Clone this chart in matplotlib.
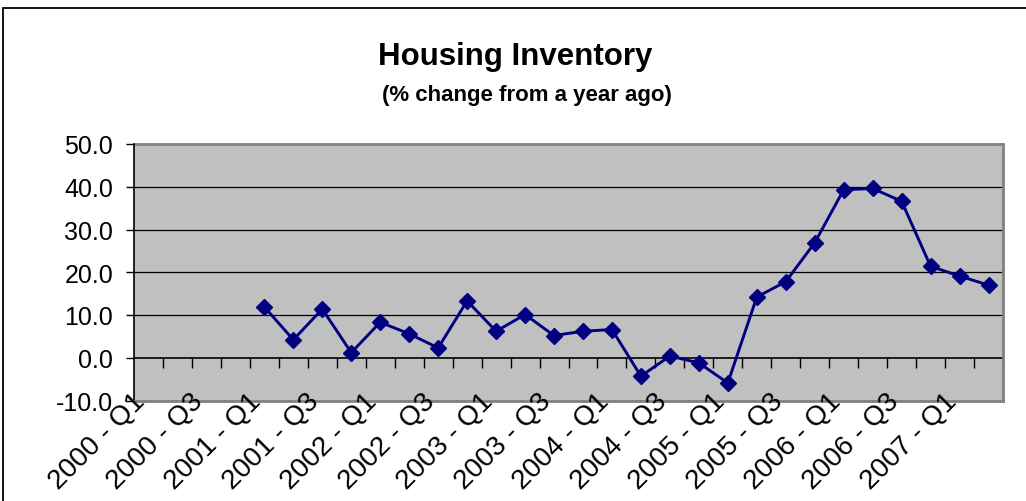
"""
Housing inventory, % change from a year ago, quarterly line chart.
"""

import matplotlib
matplotlib.use("Agg")
import matplotlib.pyplot as plt
from matplotlib.patches import Rectangle
from matplotlib.ticker import FixedLocator, FormatStrFormatter
from matplotlib.transforms import ScaledTranslation

plt.rcParams["font.family"] = ["Liberation Sans", "DejaVu Sans"]

# ---------------------------------------------------------------------------
# Data
# ---------------------------------------------------------------------------
YEARS = list(range(2000, 2008))
QUARTERS = [f"{y} - Q{q}" for y in YEARS for q in range(1, 5)][:30]  # 2000-Q1 .. 2007-Q2

# Series starts at 2001 - Q1
FIRST_QUARTER = "2001 - Q1"
INVENTORY_CHG = [
    11.9, 4.2, 11.4, 1.2, 8.3, 5.6, 2.3, 13.3, 6.2, 10.1,
    5.2, 6.2, 6.6, -4.3, 0.4, -1.2, -5.9, 14.2, 17.8, 26.9,
    39.3, 39.6, 36.6, 21.4, 19.1, 17.0,
]

TITLE = "Housing Inventory"
SUBTITLE = "(% change from a year ago)"

NAVY = "#000080"
PLOT_BG = "#C0C0C0"
BORDER_GRAY = "#808080"

# ---------------------------------------------------------------------------
# Figure
# ---------------------------------------------------------------------------
fig = plt.figure(figsize=(10.26, 5.02), dpi=100)
W, H = 1026, 502

left, right, top, bottom = 134, 1003, 145, 401.5
ax = fig.add_axes([left / W, 1 - bottom / H, (right - left) / W, (bottom - top) / H])
ax.set_facecolor(PLOT_BG)

start = QUARTERS.index(FIRST_QUARTER)
xs = list(range(start, start + len(INVENTORY_CHG)))
ax.plot(xs, INVENTORY_CHG, color=NAVY, linewidth=2.1, marker="D",
        markersize=8.5, markerfacecolor=NAVY, markeredgecolor=NAVY, zorder=5)

ax.set_xlim(-0.5, len(QUARTERS) - 0.5)
ax.set_ylim(-10, 50)

# y axis
ax.set_yticks(range(-10, 51, 10))
ax.yaxis.set_major_formatter(FormatStrFormatter("%.1f"))
ax.tick_params(axis="y", direction="out", length=6, width=1, pad=9,
               labelsize=18, colors="black")
for yv in range(10, 50, 10):
    ax.axhline(yv, color="black", linewidth=0.9, zorder=1)

# category axis line at zero with tick marks between categories
sec = ax.secondary_xaxis(10 / 60)
sec.spines["bottom"].set_visible(False)
sec.xaxis.set_major_locator(FixedLocator([i + 0.5 for i in range(len(QUARTERS))]))
sec.tick_params(axis="x", direction="out", length=7, width=1, labelbottom=False,
                colors="black")
ax.axhline(0, color="black", linewidth=1.2, zorder=2)

# category labels every other quarter, hung from the bottom edge
ax.set_xticks([])
label_shift = ScaledTranslation(-0.07, 0.03, fig.dpi_scale_trans)
for i in range(0, len(QUARTERS), 2):
    ax.text(i, 0, QUARTERS[i], transform=ax.get_xaxis_transform() + label_shift,
            rotation=45, rotation_mode="anchor", ha="right", va="center",
            fontsize=20, clip_on=False, zorder=6)

ax.spines["top"].set_visible(False)
ax.spines["left"].set_color("black")
ax.spines["left"].set_linewidth(1.2)
for side in ("bottom", "right"):
    ax.spines[side].set_color(BORDER_GRAY)
    ax.spines[side].set_linewidth(2)
ax.add_patch(Rectangle((0, 1), 1, 0, transform=ax.transAxes, fill=False,
                       edgecolor=BORDER_GRAY, linewidth=2, clip_on=False))

# titles
fig.text(515 / W, 1 - 57 / H, TITLE, ha="center", va="center",
         fontsize=22.5, fontweight="bold")
fig.text(527 / W, 1 - 95 / H, SUBTITLE, ha="center", va="center",
         fontsize=16, fontweight="bold")

# chart frame
fig.patches.append(Rectangle((3 / W, -0.1), 1.2, 1.1 - 9 / H,
                             transform=fig.transFigure, fill=False,
                             edgecolor="black", linewidth=1.3))

fig.savefig("out.png", dpi=100)
